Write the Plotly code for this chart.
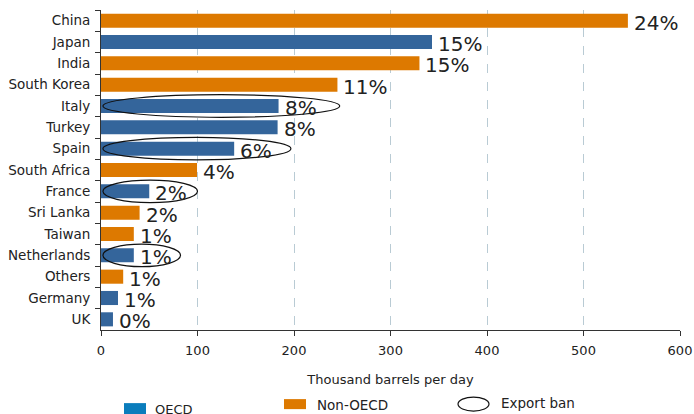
import plotly.graph_objects as go

# Crude oil imports by country, thousand barrels per day
countries = ["China", "Japan", "India", "South Korea", "Italy", "Turkey", "Spain",
             "South Africa", "France", "Sri Lanka", "Taiwan", "Netherlands",
             "Others", "Germany", "UK"]
volumes = [546, 343, 330, 245, 184, 183, 138, 99.5, 50, 40, 34, 34, 23, 17.6, 12.4]
shares = ["24%", "15%", "15%", "11%", "8%", "8%", "6%", "4%", "2%", "2%", "1%",
          "1%", "1%", "1%", "0%"]
groups = ["Non-OECD", "OECD", "Non-OECD", "Non-OECD", "OECD", "OECD", "OECD",
          "Non-OECD", "OECD", "Non-OECD", "Non-OECD", "OECD", "Non-OECD", "OECD", "OECD"]
export_ban = ["Italy", "Spain", "France", "Netherlands"]
x_ticks = [0, 100, 200, 300, 400, 500, 600]

OECD_COLOR = "#34659b"
NON_OECD_COLOR = "#dd7900"
LEGEND_OECD = "#0a7dbc"
FONT = "DejaVu Sans"
TXT = "#222222"

colors = [OECD_COLOR if g == "OECD" else NON_OECD_COLOR for g in groups]

fig = go.Figure()
fig.add_trace(go.Bar(
    y=countries, x=volumes, orientation="h",
    marker=dict(color=colors, line=dict(width=0)),
    showlegend=False, hoverinfo="skip",
))

# Share labels placed just past the end of each bar
annotations = [
    dict(text=s, x=v, y=c, xref="x", yref="y", xanchor="left", yanchor="middle",
         xshift=4, yshift=-2, showarrow=False,
         font=dict(size=20, color=TXT, family=FONT))
    for c, v, s in zip(countries, volumes, shares)
]

shapes = []
# Ellipses marking countries with an export ban
for name in export_ban:
    i = countries.index(name)
    v = volumes[i]
    shapes.append(dict(type="circle", xref="x", yref="y",
                       x0=2, x1=v * 1.1 + 45, y0=i - 0.53, y1=i + 0.53,
                       line=dict(color="#111111", width=1.2), fillcolor="rgba(0,0,0,0)"))

# Legend drawn below the axis (paper coordinates)
L, W, T, H = 101, 579, 10.5, 319.5
def px(x):
    return (x - L) / W
def py(y):
    return (T + H - y) / H

shapes.append(dict(type="rect", xref="paper", yref="paper",
                   x0=px(124), x1=px(146), y0=py(414), y1=py(403),
                   fillcolor=LEGEND_OECD, line=dict(width=0)))
shapes.append(dict(type="rect", xref="paper", yref="paper",
                   x0=px(284), x1=px(306), y0=py(409), y1=py(399),
                   fillcolor=NON_OECD_COLOR, line=dict(width=0)))
shapes.append(dict(type="circle", xref="paper", yref="paper",
                   x0=px(458), x1=px(489), y0=py(411), y1=py(397),
                   line=dict(color="#111111", width=1.2)))

annotations += [
    dict(text="OECD", x=px(153), y=py(409), xref="paper", yref="paper",
         xanchor="left", yanchor="middle", showarrow=False,
         font=dict(size=13, color=TXT, family=FONT)),
    dict(text="Non-OECD", x=px(315), y=py(405), xref="paper", yref="paper",
         xanchor="left", yanchor="middle", showarrow=False,
         font=dict(size=13.5, color=TXT, family=FONT)),
    dict(text="Export ban", x=px(499), y=py(403), xref="paper", yref="paper",
         xanchor="left", yanchor="middle", showarrow=False,
         font=dict(size=13.5, color=TXT, family=FONT)),
]

fig.update_layout(
    width=694, height=414,
    margin=dict(l=101, r=14, t=10, b=84),
    paper_bgcolor="white", plot_bgcolor="white",
    bargap=0.34,
    font=dict(family=FONT, size=13, color=TXT),
    shapes=shapes, annotations=annotations,
    xaxis=dict(range=[0, 600], tickvals=x_ticks, ticks="outside", ticklen=5,
               tickcolor="#333333", showline=True, linecolor="#333333", linewidth=1,
               showgrid=True, gridcolor="#b9cbd4", griddash="dash", gridwidth=1,
               zeroline=False, tickfont=dict(size=13, color=TXT),
               ticklabelstandoff=3, automargin=False,
               title=dict(text="Thousand barrels per day", standoff=18,
                          font=dict(size=13, color=TXT))),
    yaxis=dict(categoryorder="array", categoryarray=countries,
               range=[len(countries) - 0.5, -0.5],
               ticks="outside", tickson="boundaries", ticklen=5, tickcolor="#333333",
               showline=True, linecolor="#333333", linewidth=1, showgrid=False,
               ticklabelstandoff=7, automargin=False,
               tickfont=dict(size=13.5, color=TXT)),
)

fig.write_html("out.html")
